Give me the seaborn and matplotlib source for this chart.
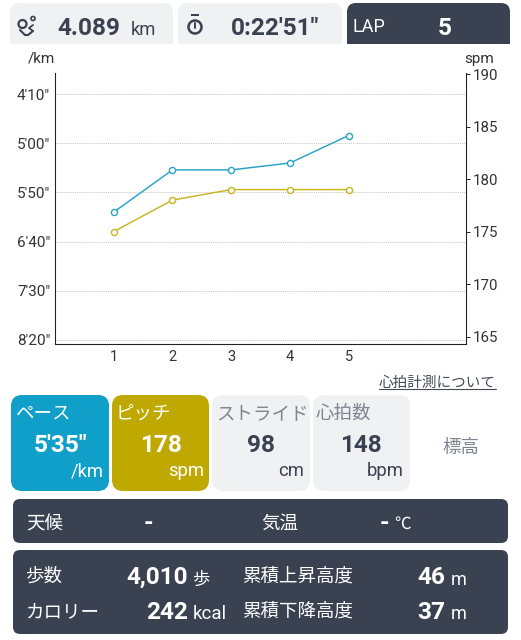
import matplotlib
matplotlib.use("Agg")
import matplotlib.pyplot as plt
from matplotlib.patches import FancyBboxPatch, Rectangle, Circle
import pandas as pd
import seaborn as sns

laps = [1, 2, 3, 4, 5]
pace_sec = [370, 327, 327, 320, 292]
pitch_spm = [175, 178, 179, 179, 179]
pace_ticks = [250, 300, 350, 400, 450, 500]
pace_labels = ["4'10\"", "5'00\"", "5'50\"", "6'40\"", "7'30\"", "8'20\""]
pitch_ticks = [165, 170, 175, 180, 185, 190]

BLUE = "#0f9fc9"
YELLOW = "#bfa900"
LINE_B = "#2aa3c6"
LINE_Y = "#c9b41f"
DARK = "#3a4150"
LIGHT = "#f0f1f3"
GREY = "#7d8590"

sns.set_theme(style="white")
plt.rcParams["font.family"] = ["Roboto", "Noto Sans CJK JP", "DejaVu Sans"]

W, H = 521, 640
fig = plt.figure(figsize=(W / 100, H / 100), dpi=100)
fig.patch.set_facecolor("white")

L, R, T, B = 55, 466, 73, 344
ax = fig.add_axes([L / W, 1 - B / H, (R - L) / W, (B - T) / H])
ax2 = ax.twinx()

df = pd.DataFrame({"lap": laps, "pace": pace_sec, "pitch": pitch_spm})
sns.lineplot(data=df, x="lap", y="pace", ax=ax, color=LINE_B, lw=1.05, marker="o", ms=4.4,
             mfc="white", mec=LINE_B, mew=1.0, clip_on=False)
sns.lineplot(data=df, x="lap", y="pitch", ax=ax2, color=LINE_Y, lw=1.05, marker="o", ms=4.4,
             mfc="white", mec=LINE_Y, mew=1.0, clip_on=False)

ax.set_xlim(0, 7)
ax.set_ylim(504.3, 228.3)
ax2.set_ylim(164.3, 190.1)
ax.set_xlabel("")
ax.set_ylabel("")
ax2.set_xlabel("")
ax2.set_ylabel("")
ax.set_xticks(laps)
ax.set_xticklabels([str(v) for v in laps], fontsize=10.5, color="#333333")
ax.set_yticks(pace_ticks)
ax.set_yticklabels(pace_labels, fontsize=11, color="#333333")
ax2.set_yticks(pitch_ticks)
ax2.set_yticklabels([str(v) for v in pitch_ticks], fontsize=10.8, color="#333333")
ax.tick_params(axis="x", length=0, pad=4)
ax.tick_params(axis="y", length=0, pad=3.5)
ax2.tick_params(axis="y", length=3, width=0.7, color="#222222", pad=2, direction="out")
ax.yaxis.grid(True, color="#c6c6c6", lw=0.7, ls=(0, (1, 1)))
ax.xaxis.grid(False)
ax.set_zorder(ax2.get_zorder() - 1)
ax2.patch.set_visible(False)
for a in (ax, ax2):
    a.spines["top"].set_visible(False)
    for s in ("left", "right", "bottom"):
        a.spines[s].set_visible(True)
        a.spines[s].set_color("#222222")
        a.spines[s].set_linewidth(0.75)

ov = fig.add_axes([0, 0, 1, 1], zorder=10)
ov.set_xlim(0, W)
ov.set_ylim(H, 0)
ov.axis("off")
ov.patch.set_visible(False)


def card(x0, y0, x1, y1, color, r=9):
    ov.add_patch(FancyBboxPatch((x0 + r, y0 + r), x1 - x0 - 2 * r, y1 - y0 - 2 * r,
                                boxstyle=f"round,pad={r},rounding_size={r}", fc=color, ec="none"))


def top_card(x0, y0, x1, y1, color):
    card(x0, y0, x1, y1, color)
    ov.add_patch(Rectangle((x0, y1 - 12), x1 - x0, 12, fc=color, ec="none"))


def txt(x, y, s, size, color=DARK, bold=False, ha="left"):
    ov.text(x, y, s, fontsize=size, color=color, ha=ha, va="center_baseline",
            fontweight="bold" if bold else "normal")


BIG = 17.6
LBL = 13.3

# top cards
top_card(10, 3, 173, 44, LIGHT)
top_card(178, 3, 342, 44, LIGHT)
top_card(347, 3, 510, 44, DARK)
ov.add_patch(Circle((22.5, 24), 4.0, fc="none", ec=DARK, lw=1.6))
ov.add_patch(Circle((33, 18.5), 2.0, fc="none", ec=DARK, lw=1.2))
ov.plot([20, 25, 28, 33], [30, 35, 35, 31], color=DARK, lw=1.5)
ov.plot([33, 29, 33], [31, 28, 25], color=DARK, lw=1.3)
ov.add_patch(Circle((195, 27), 6.5, fc="none", ec=DARK, lw=1.8))
ov.add_patch(Rectangle((191, 14), 8, 2, fc=DARK, ec="none"))
ov.plot([195, 195], [23, 28], color=DARK, lw=1.4)
txt(57, 26, "4.089", BIG, bold=True)
txt(131, 28, "km", 13.2)
txt(231, 26, "0:22'51\"", BIG, bold=True)
txt(353, 25, "LAP", 13, color="white")
txt(445, 26, "5", BIG, color="white", bold=True, ha="center")

# axis titles
txt(28, 57, "/km", 11, color="#333333")
txt(464, 57, "spm", 11, color="#333333")

# link
txt(496, 381, "心拍計測について", 10.5, color="#444a55", ha="right")
ov.plot([379, 496], [388.5, 388.5], color="#444a55", lw=0.8)

# metric cards
card(11, 395, 109, 491, BLUE, r=11)
card(112, 395, 209, 491, YELLOW, r=11)
card(212, 395, 310, 491, LIGHT, r=11)
card(313, 395, 410, 491, LIGHT, r=11)
txt(15, 412, "ペース", LBL, color="white")
txt(116, 412, "ピッチ", LBL, color="white")
txt(216, 412, "ストライド", LBL, color=GREY)
txt(316, 412, "心拍数", LBL, color=GREY)
txt(61, 443, "5'35\"", BIG, color="white", bold=True, ha="center")
txt(161, 443, "178", BIG, color="white", bold=True, ha="center")
txt(261, 443, "98", BIG, bold=True, ha="center")
txt(361, 443, "148", BIG, bold=True, ha="center")
txt(104, 469, "/km", 13.2, color="white", ha="right")
txt(204, 469, "spm", 13.2, color="white", ha="right")
txt(304, 469, "cm", 13.2, ha="right")
txt(404, 469, "bpm", 13.2, ha="right")
txt(461, 446, "標高", LBL, color=GREY, ha="center")

# weather panel
card(13, 499, 508, 543, DARK, r=7)
txt(26, 522, "天候", LBL, color="white")
txt(148, 521, "-", BIG, color="white", bold=True, ha="center")
txt(261, 522, "気温", LBL, color="white")
txt(384, 521, "-", BIG, color="white", bold=True, ha="center")
txt(394, 523, "℃", 12, color="white")

# summary panel
card(13, 550, 508, 634, DARK, r=7)
txt(26, 575, "歩数", LBL, color="white")
txt(26, 610, "カロリー", LBL, color="white")
txt(188, 575, "4,010", BIG, color="white", bold=True, ha="right")
txt(193, 578, "歩", 12.5, color="white")
txt(188, 610, "242", BIG, color="white", bold=True, ha="right")
txt(193, 612, "kcal", 13.5, color="white")
txt(242, 575, "累積上昇高度", LBL, color="white")
txt(242, 610, "累積下降高度", LBL, color="white")
txt(445, 575, "46", BIG, color="white", bold=True, ha="right")
txt(451, 578, "m", 13, color="white")
txt(445, 610, "37", BIG, color="white", bold=True, ha="right")
txt(451, 612, "m", 13, color="white")

fig.savefig("out.png", dpi=100)
